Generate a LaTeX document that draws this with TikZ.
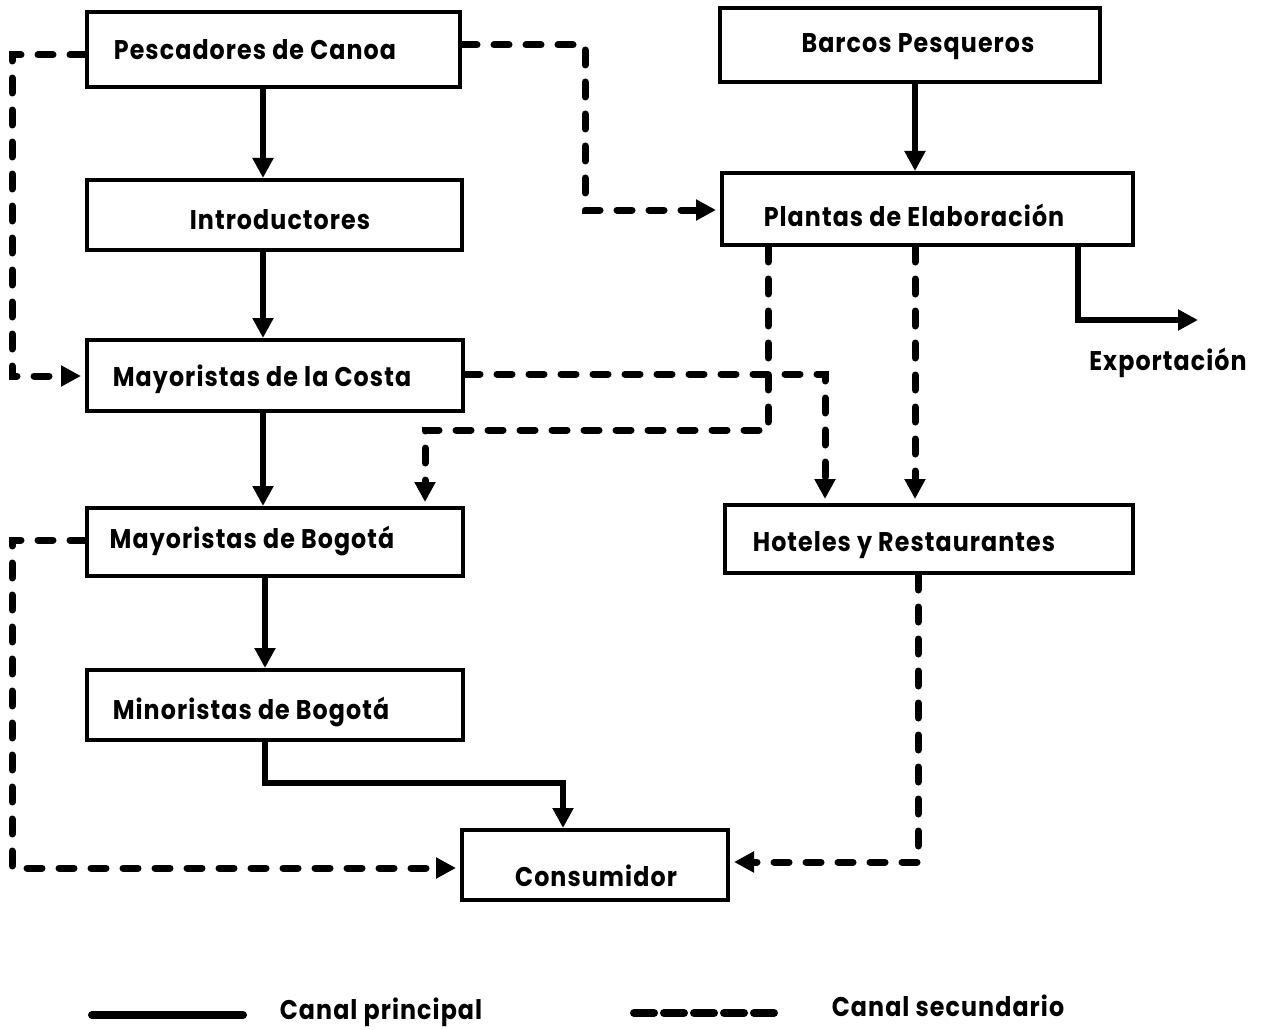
\documentclass[tikz,border=0pt]{standalone}
\usepackage{fontspec}
\setmainfont{Poppins}[FakeStretch=0.88,LetterSpace=4]
\usetikzlibrary{arrows.meta}
\begin{document}
\begin{tikzpicture}[x=1pt,y=-1pt,
  box/.style={draw,line width=4pt,inner sep=0pt},
  lbl/.style={font=\fontsize{27}{32}\selectfont\bfseries,inner sep=0pt},
  main/.style={line width=5.5pt,-{Triangle[length=20pt,width=20pt]}},
  sec/.style={line width=7pt,line cap=round,dash pattern=on 15pt off 17pt,-{Triangle[length=20pt,width=20pt]},shorten >=4pt}]
\useasboundingbox (0,0) rectangle (1267,1030);
% boxes
\node[box,minimum width=373pt,minimum height=75pt] (pesc) at (273.5,49.5) {};
\node[box,minimum width=375pt,minimum height=70pt] (intro) at (274.5,215) {};
\node[box,minimum width=376pt,minimum height=71pt] (costa) at (275,375.5) {};
\node[box,minimum width=376pt,minimum height=68pt] (bog) at (275,542) {};
\node[box,minimum width=376pt,minimum height=70pt] (mino) at (275,705) {};
\node[box,minimum width=266pt,minimum height=70pt] (cons) at (595,865) {};
\node[box,minimum width=380pt,minimum height=74pt] (barcos) at (910,45) {};
\node[box,minimum width=411pt,minimum height=72pt] (plantas) at (927.5,209) {};
\node[box,minimum width=408pt,minimum height=68pt] (hoteles) at (929,539) {};
% texts
\node[lbl] (tpesc) at (255,50) {Pescadores de Canoa};
\node[lbl] (tintro) at (280,220) {Introductores};
\node[lbl] (tcosta) at (262,379) {Mayoristas de la Costa};
\node[lbl] (tbog) at (252,541) {Mayoristas de Bogotá};
\node[lbl] (tmino) at (251,712) {Minoristas de Bogotá};
\node[lbl] (tcons) at (596,876) {Consumidor};
\node[lbl] (tbarcos) at (918,47) {Barcos Pesqueros};
\node[lbl] (tplantas) at (914,215) {Plantas de Elaboración};
\node[lbl] (thoteles) at (904,545) {Hoteles y Restaurantes};
\node[lbl] (texp) at (1168,363) {Exportación};
% main connectors
\draw[main] (pesc.south -| 263,0) -- (intro.north -| 263,0);
\draw[main] (intro.south -| 263,0) -- (costa.north -| 263,0);
\draw[main] (costa.south -| 263,0) -- (bog.north -| 263,0);
\draw[main] (bog.south -| 265,0) -- (mino.north -| 265,0);
\draw[main] (mino.south -| 265,0) -- (265,783) -- (563,783) -- (cons.north -| 563,0);
\draw[main] (barcos.south -| 915,0) -- (plantas.north -| 915,0);
\coordinate (expend) at (1198,320);
\draw[main] (plantas.south -| 1078,0) -- (1078,320) -- (expend);
% secondary connectors
\draw[sec] (pesc.west |- 0,55) -- (12,55) -- (12,376) -- (costa.west |- 0,376);
\draw[sec] (pesc.east |- 0,45) -- (585,45) -- (585,210) -- (plantas.west |- 0,210);
\draw[sec] (costa.east |- 0,374) -- (825,374) -- (hoteles.north -| 825,0);
\draw[sec] (plantas.south -| 768,0) -- (768,430) -- (425,430) -- (bog.north -| 425,0);
\draw[sec] (plantas.south -| 915,0) -- (hoteles.north -| 915,0);
\draw[sec] (bog.west |- 0,540) -- (12,540) -- (12,868) -- (cons.west |- 0,868);
\draw[sec] (hoteles.south -| 918,0) -- (918,862) -- (cons.east |- 0,862);
% legend
\coordinate (la) at (92,1015); \coordinate (lb) at (243,1015);
\draw[line width=8pt,line cap=round] (la) -- (lb);
\node[lbl] (tla) at (381,1012) {Canal principal};
\coordinate (lc) at (634,1013); \coordinate (ld) at (782,1013);
\draw[line width=8pt,line cap=round,dash pattern=on 20pt off 10pt] (lc) -- (ld);
\node[lbl] (tlb) at (948,1006) {Canal secundario};
\end{tikzpicture}
\end{document}
